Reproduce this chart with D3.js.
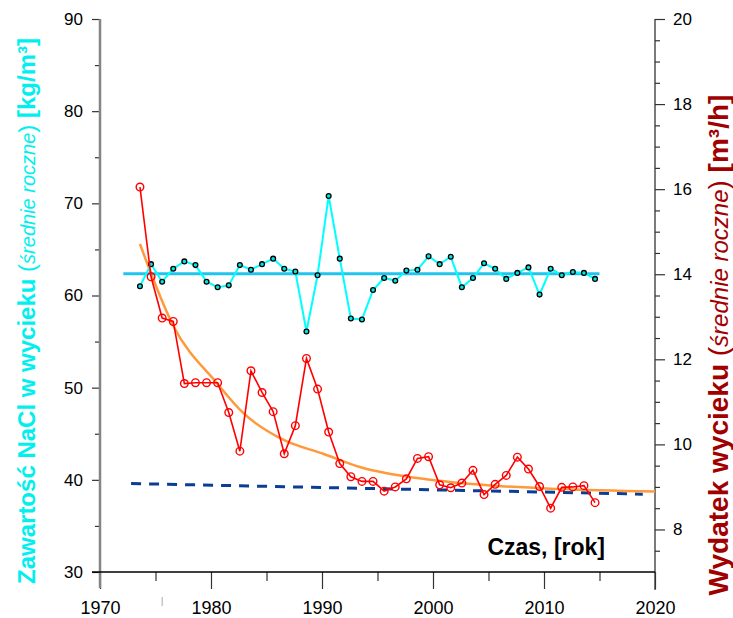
<!DOCTYPE html>
<html lang="pl">
<head>
  <meta charset="UTF-8">
  <title>NaCl w wycieku</title>
  <script src="https://d3js.org/d3.v7.min.js"></script>
  <style>
    body { margin: 0; background: #fff; }
    text { font-family: Arial, "Liberation Sans", sans-serif; }
  </style>
</head>
<body>
<div id="chart"></div>

<script>
  // yearly means, points sit a bit left of the year tick
  var years = [1974, 1975, 1976, 1977, 1978, 1979, 1980, 1981, 1982, 1983,
    1984, 1985, 1986, 1987, 1988, 1989, 1990, 1991, 1992, 1993,
    1994, 1995, 1996, 1997, 1998, 1999, 2000, 2001, 2002, 2003,
    2004, 2005, 2006, 2007, 2008, 2009, 2010, 2011, 2012, 2013,
    2014, 2015];
  var yearShift = -0.4;

  // NaCl [kg/m3] - left axis
  var nacl = [61.0, 63.4, 61.5, 62.9, 63.7, 63.3, 61.5, 60.9, 61.1, 63.3,
    62.8, 63.4, 64.0, 62.9, 62.6, 56.1, 62.2, 70.8, 64.0, 57.5,
    57.4, 60.6, 61.9, 61.6, 62.7, 62.8, 64.25, 63.4, 64.2, 60.9,
    61.9, 63.5, 62.9, 61.8, 62.45, 63.05, 60.1, 62.9, 62.2, 62.55,
    62.45, 61.8];

  // flow [m3/h] - right axis
  var flow = [16.05, 13.94, 12.97, 12.89, 11.43, 11.45, 11.45, 11.45, 10.75, 9.84,
    11.73, 11.22, 10.77, 9.78, 10.44, 12.02, 11.30, 10.29, 9.55, 9.24,
    9.13, 9.13, 8.90, 9.00, 9.19, 9.67, 9.71, 9.05, 8.98, 9.09,
    9.39, 8.82, 9.06, 9.27, 9.70, 9.42, 9.01, 8.50, 8.99, 9.00,
    9.03, 8.63];

  // mean NaCl level
  var naclMean = 62.35;
  var meanYears = [1972.1, 2015.0];

  // fitted curve of flow
  var fitYears = [1973.6, 1976.6, 1980.5, 1982.9, 1986.5, 1990.1, 1993.4, 1999.4, 2005.4, 2011.4, 2020];
  var fitFlow = [14.71, 12.79, 11.45, 10.74, 10.11, 9.78, 9.47, 9.18, 9.03, 8.95, 8.89];

  // linear trend of flow
  var trendYears = [1972.8, 2018.9];
  var trendFlow = [9.08, 8.83];

  var xTicks = [1970, 1980, 1990, 2000, 2010, 2020];
  var xMinor = [1975, 1985, 1995, 2005, 2015];
  var strayTick = 1975.6;  // odd short mark under the axis
  var naclTicks = [30, 40, 50, 60, 70, 80, 90];
  var naclMinor = [35, 45, 55, 65, 75, 85];
  var flowTicks = [8, 10, 12, 14, 16, 18, 20];
  var flowMinor = [7.5, 8.5, 9, 9.5, 10.5, 11, 11.5, 12.5, 13, 13.5,
    14.5, 15, 15.5, 16.5, 17, 17.5, 18.5, 19, 19.5];

  var margin = {top: 19, right: 78, bottom: 46, left: 100},
    width = 733 - margin.left - margin.right,
    height = 618 - margin.top - margin.bottom;

  var svg = d3.select("#chart")
    .append("svg")
    .attr("width", 733)
    .attr("height", 618)
    .append("g")
    .attr("transform", "translate(" + margin.left + "," + margin.top + ")");

  var x = d3.scaleLinear().domain([1970, 2020]).range([0, width]);
  var yL = d3.scaleLinear().domain([30, 90]).range([height, 0]);
  var yR = d3.scaleLinear().domain([7, 20]).range([height, 0]);

  // ---- axes ----
  var gL = svg.append("g")
    .call(d3.axisLeft(yL).tickValues(naclTicks).tickSize(8).tickPadding(9));
  svg.append("g")
    .call(d3.axisLeft(yL).tickValues(naclMinor).tickSize(5).tickFormat(""));

  var gR = svg.append("g")
    .attr("transform", "translate(" + width + ",0)")
    .call(d3.axisRight(yR).tickValues(flowTicks).tickSize(10).tickPadding(8));
  svg.append("g")
    .attr("transform", "translate(" + width + ",0)")
    .call(d3.axisRight(yR).tickValues(flowMinor).tickSize(5).tickFormat(""));

  var gB = svg.append("g")
    .attr("transform", "translate(0," + height + ")")
    .call(d3.axisBottom(x).tickValues(xTicks).tickSize(17).tickPadding(12).tickFormat(d3.format("d")));
  svg.append("g")
    .attr("transform", "translate(0," + height + ")")
    .call(d3.axisBottom(x).tickValues(xMinor).tickSize(9).tickFormat(""));

  svg.selectAll(".domain").remove();
  svg.selectAll(".tick text").style("font-size", "17px").attr("fill", "#000");
  gB.selectAll(".tick text").style("font-size", "18px");
  svg.selectAll(".tick line").attr("stroke", "#333").attr("stroke-width", 1.2);

  svg.append("line")
    .attr("x1", x(strayTick)).attr("x2", x(strayTick))
    .attr("y1", height + 25).attr("y2", height + 34)
    .attr("stroke", "#aaa").attr("stroke-width", 1);

  // axis lines
  svg.append("line")
    .attr("x1", 0).attr("x2", 0)
    .attr("y1", 0).attr("y2", height + 16)
    .attr("stroke", "#858585").attr("stroke-width", 2.5);
  svg.append("line")
    .attr("x1", width).attr("x2", width)
    .attr("y1", 0).attr("y2", height + 18)
    .attr("stroke", "#333").attr("stroke-width", 1.3);
  svg.append("line")
    .attr("x1", -8).attr("x2", width)
    .attr("y1", height).attr("y2", height)
    .attr("stroke", "#000").attr("stroke-width", 1.3);

  // ---- series ----
  svg.append("path")
    .datum(d3.zip(trendYears, trendFlow))
    .attr("fill", "none")
    .attr("stroke", "#0b3d95")
    .attr("stroke-width", 3)
    .attr("stroke-dasharray", "10,8")
    .attr("d", d3.line()
      .x(function(d) { return x(d[0]); })
      .y(function(d) { return yR(d[1]); }));

  svg.append("path")
    .datum(d3.zip(fitYears, fitFlow))
    .attr("fill", "none")
    .attr("stroke", "#ff9a3c")
    .attr("stroke-width", 2.5)
    .attr("d", d3.line()
      .curve(d3.curveMonotoneX)
      .x(function(d) { return x(d[0]); })
      .y(function(d) { return yR(d[1]); }));

  svg.append("line")
    .attr("x1", x(meanYears[0])).attr("x2", x(meanYears[1]))
    .attr("y1", yL(naclMean)).attr("y2", yL(naclMean))
    .attr("stroke", "#20c4ee").attr("stroke-width", 3);

  var naclData = d3.zip(years, nacl);
  svg.append("path")
    .datum(naclData)
    .attr("fill", "none")
    .attr("stroke", "#00ffff")
    .attr("stroke-width", 2)
    .attr("d", d3.line()
      .x(function(d) { return x(d[0] + yearShift); })
      .y(function(d) { return yL(d[1]); }));
  svg.append("g")
    .selectAll("circle")
    .data(naclData)
    .enter()
    .append("circle")
    .attr("cx", function(d) { return x(d[0] + yearShift); })
    .attr("cy", function(d) { return yL(d[1]); })
    .attr("r", 2.4)
    .attr("fill", "#00e6e6")
    .attr("stroke", "#000")
    .attr("stroke-width", 1.3);

  var flowData = d3.zip(years, flow);
  svg.append("path")
    .datum(flowData)
    .attr("fill", "none")
    .attr("stroke", "#ff0000")
    .attr("stroke-width", 1.6)
    .attr("d", d3.line()
      .x(function(d) { return x(d[0] + yearShift); })
      .y(function(d) { return yR(d[1]); }));
  svg.append("g")
    .selectAll("circle")
    .data(flowData)
    .enter()
    .append("circle")
    .attr("cx", function(d) { return x(d[0] + yearShift); })
    .attr("cy", function(d) { return yR(d[1]); })
    .attr("r", 3.8)
    .attr("fill", "none")
    .attr("stroke", "#ff0000")
    .attr("stroke-width", 1.4);

  // ---- titles ----
  var tL = svg.append("text")
    .attr("transform", "translate(" + (35 - margin.left) + "," + (311 - margin.top) + ") rotate(-90)")
    .attr("text-anchor", "middle")
    .attr("fill", "#00f0f0")
    .style("font-size", "24px");
  tL.append("tspan").attr("font-weight", "bold").text("Zawartość NaCl w wycieku");
  tL.append("tspan").text(" (");
  tL.append("tspan").attr("font-style", "italic").style("font-size", "20px").text("średnie roczne");
  tL.append("tspan").text(")");
  tL.append("tspan").attr("font-weight", "bold").text(" [kg/m³]");

  var tR = svg.append("text")
    .attr("transform", "translate(" + (728 - margin.left) + "," + (345 - margin.top) + ") rotate(-90)")
    .attr("text-anchor", "middle")
    .attr("fill", "#a00000")
    .style("font-size", "28px");
  tR.append("tspan").attr("font-weight", "bold").text("Wydatek wycieku");
  tR.append("tspan").text(" (");
  tR.append("tspan").attr("font-style", "italic").style("font-size", "24px").text("średnie roczne");
  tR.append("tspan").text(")");
  tR.append("tspan").attr("font-weight", "bold").text(" [m³/h]");

  svg.append("text")
    .attr("x", 605 - margin.left)
    .attr("y", 555 - margin.top)
    .attr("text-anchor", "end")
    .attr("font-weight", "bold")
    .style("font-size", "23px")
    .text("Czas, [rok]");
</script>
</body>
</html>
